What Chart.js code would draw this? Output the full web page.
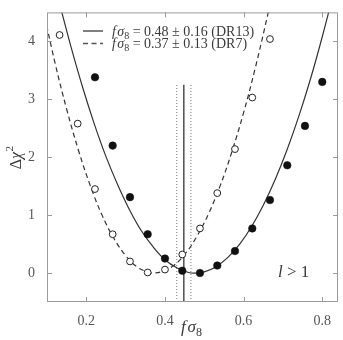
<!DOCTYPE html>
<html>
<head>
<meta charset="utf-8">
<script src="https://cdn.jsdelivr.net/npm/chart.js@4.4.0/dist/chart.umd.min.js"></script>
<style>
  html, body { margin: 0; padding: 0; background: #fff; }
</style>
</head>
<body>
<canvas id="chi2Chart" width="343" height="340"></canvas>
<script>
// DR13 points (filled) and DR7 points (open)
const filledX = [0.222, 0.267, 0.311, 0.356, 0.400, 0.444, 0.489, 0.533, 0.578, 0.622, 0.667, 0.711, 0.756, 0.800];
const filledY = [3.38, 2.20, 1.31, 0.67, 0.25, 0.04, 0.00, 0.13, 0.38, 0.77, 1.26, 1.86, 2.54, 3.30];
const openX = [0.132, 0.178, 0.222, 0.267, 0.311, 0.356, 0.400, 0.444, 0.489, 0.533, 0.578, 0.622, 0.667];
const openY = [4.11, 2.58, 1.45, 0.67, 0.20, 0.01, 0.06, 0.32, 0.77, 1.38, 2.14, 3.03, 4.04];

// fitted curves
const solidX = [0.13, 0.16, 0.19, 0.22, 0.25, 0.28, 0.31, 0.34, 0.37, 0.40, 0.43, 0.46, 0.477, 0.50, 0.53, 0.56, 0.59, 0.62, 0.65, 0.68, 0.71, 0.74, 0.77, 0.80, 0.83];
const solidY = [4.70, 3.93, 3.22, 2.58, 2.01, 1.52, 1.09, 0.73, 0.45, 0.23, 0.09, 0.01, 0.00, 0.02, 0.11, 0.27, 0.50, 0.80, 1.17, 1.61, 2.12, 2.70, 3.35, 4.08, 4.87];
const dashX = [0.09, 0.12, 0.15, 0.18, 0.21, 0.24, 0.27, 0.30, 0.33, 0.36, 0.372, 0.39, 0.42, 0.45, 0.48, 0.51, 0.54, 0.57, 0.60, 0.63, 0.66, 0.67];
const dashY = [4.56, 3.64, 2.83, 2.12, 1.51, 1.00, 0.60, 0.30, 0.10, 0.01, 0.00, 0.02, 0.12, 0.32, 0.62, 1.01, 1.50, 2.09, 2.77, 3.55, 4.42, 4.73];

// vertical marker: best value and its band
const markX = [0.448];
const bandX = [0.430, 0.466];
const markTop = [3.25, 3.28];

const xTicks = [0.2, 0.4, 0.6, 0.8];
const yTicks = [0, 1, 2, 3, 4];
const legendText = ['= 0.48 \u00b1 0.16 (DR13)', '= 0.37 \u00b1 0.13 (DR7)'];
const cornerText = ['l', ' > 1'];

const SERIF = "'Liberation Serif', 'DejaVu Serif', serif";
const INK = '#3a3a3a';
const FRAME = '#9a9a9a';

function pts(xs, ys) {
  return xs.map((x, i) => ({ x: x, y: ys[i] }));
}

function drawFSigma8(ctx, x, y, size) {
  ctx.font = 'italic ' + size + 'px ' + SERIF;
  ctx.fillText('f', x, y);
  let w = ctx.measureText('f').width + size * 0.1;
  ctx.fillText('\u03c3', x + w, y);
  w += ctx.measureText('\u03c3').width;
  ctx.font = Math.round(size * 0.7) + 'px ' + SERIF;
  ctx.fillText('8', x + w, y + size * 0.22);
  w += ctx.measureText('8').width;
  return w;
}

const decorations = {
  id: 'decorations',
  afterDraw(chart) {
    const ctx = chart.ctx;
    const a = chart.chartArea;
    const xs = chart.scales.x;
    const ys = chart.scales.y;
    ctx.save();

    // frame and inward ticks on all four sides
    ctx.strokeStyle = FRAME;
    ctx.lineWidth = 1;
    ctx.strokeRect(a.left + 0.5, a.top + 0.5, a.right - a.left - 1, a.bottom - a.top - 1);
    ctx.beginPath();
    xTicks.forEach(v => {
      const px = Math.round(xs.getPixelForValue(v)) + 0.5;
      ctx.moveTo(px, a.bottom); ctx.lineTo(px, a.bottom - 5);
      ctx.moveTo(px, a.top); ctx.lineTo(px, a.top + 5);
    });
    yTicks.forEach(v => {
      const py = Math.round(ys.getPixelForValue(v)) + 0.5;
      ctx.moveTo(a.left, py); ctx.lineTo(a.left + 5, py);
      ctx.moveTo(a.right, py); ctx.lineTo(a.right - 5, py);
    });
    ctx.stroke();

    // legend
    ctx.fillStyle = INK;
    ctx.textBaseline = 'alphabetic';
    ctx.textAlign = 'left';
    const rows = [31, 43.5];
    rows.forEach((ry, i) => {
      ctx.strokeStyle = '#555';
      ctx.lineWidth = 1.5;
      ctx.setLineDash(i === 0 ? [] : [5, 3.5]);
      ctx.beginPath();
      ctx.moveTo(83, ry); ctx.lineTo(103, ry);
      ctx.stroke();
      ctx.setLineDash([]);
      const w = drawFSigma8(ctx, 112, ry + 4.5, 14);
      ctx.font = '14px ' + SERIF;
      ctx.fillText(' ' + legendText[i], 112 + w, ry + 4.5);
    });

    // l > 1
    ctx.font = 'italic 17px ' + SERIF;
    ctx.fillText(cornerText[0], 278, 277);
    const lw = ctx.measureText(cornerText[0]).width;
    ctx.font = '17px ' + SERIF;
    ctx.fillText(cornerText[1], 278 + lw, 277);

    // x title
    ctx.font = 'italic 17px ' + SERIF;
    const tw = ctx.measureText('f\u03c3').width + 17 * 0.1 + 8;
    drawFSigma8(ctx, (a.left + a.right) / 2 - tw / 2, 332, 17);

    // y title
    ctx.translate(20.5, (a.top + a.bottom) / 2);
    ctx.rotate(-Math.PI / 2);
    ctx.font = '16px ' + SERIF;
    const dw = ctx.measureText('\u0394').width;
    ctx.font = 'italic 16px ' + SERIF;
    const cw = ctx.measureText('\u03c7').width;
    const total = dw + cw + 7;
    let cx = -total / 2;
    ctx.font = '16px ' + SERIF;
    ctx.fillText('\u0394', cx, 0);
    cx += dw;
    ctx.font = 'italic 16px ' + SERIF;
    ctx.fillText('\u03c7', cx, 0);
    cx += cw;
    ctx.font = '11px ' + SERIF;
    ctx.fillText('2', cx + 0.5, -8);
    ctx.restore();
  }
};

const ctx = document.getElementById('chi2Chart');
new Chart(ctx, {
  type: 'scatter',
  data: {
    datasets: [
      {
        data: pts(solidX, solidY), showLine: true, borderColor: '#333', borderWidth: 1.2,
        pointRadius: 0, tension: 0.4, order: 5
      },
      {
        data: pts(dashX, dashY), showLine: true, borderColor: '#333', borderWidth: 1.2,
        borderDash: [5, 3.5], pointRadius: 0, tension: 0.4, order: 5
      },
      {
        data: [{ x: markX[0], y: -0.5 }, { x: markX[0], y: markTop[0] }], showLine: true,
        borderColor: '#222', borderWidth: 1.2, pointRadius: 0, order: 6
      },
      {
        data: [{ x: bandX[0], y: -0.5 }, { x: bandX[0], y: markTop[1] }], showLine: true,
        borderColor: '#777', borderWidth: 1, borderDash: [1, 2], pointRadius: 0, order: 6
      },
      {
        data: [{ x: bandX[1], y: -0.5 }, { x: bandX[1], y: markTop[1] }], showLine: true,
        borderColor: '#777', borderWidth: 1, borderDash: [1, 2], pointRadius: 0, order: 6
      },
      {
        data: pts(openX, openY), pointRadius: 3.4, pointBackgroundColor: '#fff',
        pointBorderColor: '#222', pointBorderWidth: 1, order: 1
      },
      {
        data: pts(filledX, filledY), pointRadius: 3.8, pointBackgroundColor: '#111',
        pointBorderColor: '#111', pointBorderWidth: 0.5, order: 0
      }
    ]
  },
  options: {
    responsive: false,
    animation: false,
    layout: { padding: { top: 10, right: 3, left: 0, bottom: 0 } },
    plugins: { legend: { display: false }, tooltip: { enabled: false } },
    scales: {
      x: {
        type: 'linear', min: 0.1, max: 0.84,
        grid: { display: false },
        border: { display: false },
        afterBuildTicks: s => { s.ticks = xTicks.map(v => ({ value: v })); },
        afterFit: s => { s.height = 38; },
        ticks: {
          padding: 3, color: '#555', font: { family: SERIF, size: 14 },
          callback: v => v.toFixed(1), maxRotation: 0
        }
      },
      y: {
        type: 'linear', min: -0.5, max: 4.5,
        grid: { display: false },
        border: { display: false },
        afterBuildTicks: s => { s.ticks = yTicks.map(v => ({ value: v })); },
        afterFit: s => { s.width = 47; },
        ticks: {
          padding: 4, color: '#555', font: { family: SERIF, size: 14 },
          callback: v => String(v)
        }
      }
    }
  },
  plugins: [decorations]
});
</script>
</body>
</html>
